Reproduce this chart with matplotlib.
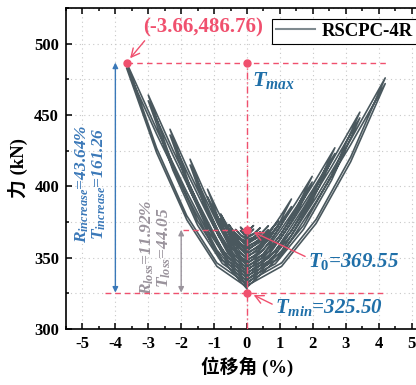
import matplotlib

matplotlib.use("Agg")
import matplotlib.pyplot as plt  # noqa: E402
import numpy as np  # noqa: E402

plt.rcParams.update(
    {
        "font.family": ["Liberation Serif", "Noto Sans CJK SC"],
        "font.weight": "bold",
        "mathtext.fontset": "custom",
        "mathtext.rm": "Liberation Serif:bold",
        "mathtext.it": "Liberation Serif:italic:bold",
        "mathtext.bf": "Liberation Serif:bold",
        "axes.linewidth": 1.2,
    }
)

# hysteresis history, one pair of lists per drift level (two cycles each)
drift_L1 = [0, 0.1, 0.2, 0.1, 0, -0.1, -0.2, -0.1, 0, 0.1, 0.2, 0.1, 0, -0.1, -0.2, -0.1, 0]
force_L1 = [369.5, 370.4, 372.5, 369.9, 368.4, 369.3, 371.4, 368.7, 367.2,
            368.1, 370.0, 367.5, 366.1, 367.0, 369.0, 366.4, 364.9]
drift_L2 = [0.2, 0.4, 0.2, 0, -0.175, -0.35, -0.175, 0, 0.2, 0.4, 0.2, 0, -0.175, -0.35, -0.175, 0]
force_L2 = [366.8, 370.9, 366.4, 363.8, 365.6, 369.8, 365.2, 362.6,
            364.3, 368.2, 363.9, 361.5, 363.2, 367.1, 362.7, 360.3]
drift_L3 = [0.325, 0.65, 0.325, 0, -0.275, -0.55, -0.275, 0, 0.325, 0.65, 0.325, 0, -0.275, -0.55, -0.275, 0]
force_L3 = [364.0, 372.3, 364.7, 359.2, 363.5, 373.2, 364.4, 358.0,
            361.5, 369.5, 362.2, 356.9, 361.1, 370.4, 361.9, 355.7]
drift_L4 = [0.475, 0.95, 0.475, 0, -0.4, -0.8, -0.4, 0, 0.475, 0.95, 0.475, 0, -0.4, -0.8, -0.4, 0]
force_L4 = [361.9, 375.7, 363.5, 354.6, 362.6, 380.6, 364.8, 353.4,
            359.3, 372.4, 360.7, 352.3, 360.0, 377.3, 362.1, 351.1]
drift_L5 = [0.34, 0.675, 1.01, 1.35, 1.01, 0.675, 0.34, 0, -0.3, -0.6, -0.9, -1.2, -0.9, -0.6, -0.3, 0,
            0.34, 0.675, 1.01, 1.35, 1.01, 0.675, 0.34, 0, -0.3, -0.6, -0.9, -1.2, -0.9, -0.6, -0.3, 0]
force_L5 = [354.9, 363.4, 375.6, 391.1, 378.8, 367.3, 356.6, 350.0, 354.6, 364.8, 379.4, 398.0, 383.2, 369.5, 356.7, 348.8,
            352.3, 360.2, 371.5, 385.8, 374.4, 363.7, 353.8, 347.7, 352.0, 361.6, 375.3, 392.7, 378.8, 365.9, 353.9, 346.5]
drift_L6 = [0.495, 0.99, 1.485, 1.98, 1.485, 0.99, 0.495, 0, -0.43, -0.865, -1.3, -1.73, -1.3, -0.865, -0.43, 0,
            0.495, 0.99, 1.485, 1.98, 1.485, 0.99, 0.495, 0, -0.43, -0.865, -1.3, -1.73, -1.3, -0.865, -0.43, 0]
force_L6 = [352.2, 365.1, 383.6, 407.0, 388.5, 371.3, 355.3, 345.4, 352.4, 368.1, 390.5, 419.0, 396.6, 375.6, 356.2, 344.2,
            349.8, 362.3, 380.2, 403.0, 385.0, 368.3, 352.7, 343.1, 349.9, 365.2, 387.2, 415.0, 393.1, 372.6, 353.6, 341.9]
drift_L7 = [0.67, 1.335, 2.0, 2.67, 2.0, 1.335, 0.67, 0, -0.585, -1.17, -1.755, -2.34, -1.755, -1.17, -0.585, 0,
            0.67, 1.335, 2.0, 2.67, 2.0, 1.335, 0.67, 0, -0.585, -1.17, -1.755, -2.34, -1.755, -1.17, -0.585, 0]
force_L7 = [350.0, 368.1, 394.1, 427.0, 401.1, 377.0, 354.6, 340.8, 350.2, 371.4, 401.6, 440.0, 409.9, 381.8, 355.7, 339.6,
            347.5, 365.3, 390.7, 423.0, 397.7, 374.0, 352.0, 338.5, 347.8, 368.5, 398.3, 436.0, 406.4, 378.8, 353.1, 337.3]
drift_L8 = [0.86, 1.715, 2.57, 3.43, 2.57, 1.715, 0.86, 0, -0.75, -1.5, -2.25, -3.0, -2.25, -1.5, -0.75, 0,
            0.86, 1.715, 2.57, 3.43, 2.57, 1.715, 0.86, 0, -0.75, -1.5, -2.25, -3.0, -2.25, -1.5, -0.75, 0]
force_L8 = [348.2, 372.6, 407.6, 452.0, 417.3, 384.8, 354.7, 336.2, 348.3, 375.6, 414.5, 464.0, 425.3, 389.2, 355.6, 335.0,
            345.7, 369.8, 404.3, 448.0, 413.8, 381.8, 352.2, 333.9, 345.9, 372.7, 411.2, 460.0, 421.8, 386.2, 353.1, 332.7]
drift_L9 = [1.05, 2.1, 3.15, 4.2, 3.15, 2.1, 1.05, 0, -0.915, -1.83, -2.745, -3.66, -2.745, -1.83, -0.915, 0,
            1.05, 2.1, 3.15, 4.2, 3.15, 2.1, 1.05, 0, -0.915, -1.83, -2.745, -3.66, -2.745, -1.83, -0.915, 0]
force_L9 = [346.3, 376.8, 420.5, 476.0, 432.7, 392.2, 354.7, 331.6, 346.3, 379.4, 426.7, 486.76, 439.9, 396.1, 355.4, 330.4,
            343.9, 374.0, 417.2, 472.0, 429.2, 389.2, 352.1, 329.3, 343.9, 376.6, 423.5, 483.0, 436.5, 393.2, 352.9, 328.1]

# key values marked on the chart
peak = (-3.66, 486.76)
T_0 = 369.55
T_min = 325.50
x_ticks = [-5, -4, -3, -2, -1, 0, 1, 2, 3, 4, 5]
y_ticks = [300, 350, 400, 450, 500]

PINK = "#f0506e"
BLUE = "#1f6fa8"
ABLUE = "#3a78b8"
GREY = "#9a939c"
LINE = "#4a585e"

drift = np.concatenate([drift_L1, drift_L2, drift_L3, drift_L4, drift_L5,
                        drift_L6, drift_L7, drift_L8, drift_L9])
force = np.concatenate([force_L1, force_L2, force_L3, force_L4, force_L5,
                        force_L6, force_L7, force_L8, force_L9])

fig = plt.figure(figsize=(4.16, 3.85), dpi=100)
ax = fig.add_axes([66 / 416, 56 / 385, 362 / 416, 321 / 385])
ax.set_xlim(-5.5, 5.5)
ax.set_ylim(300, 525)

ax.plot(drift, force, color=LINE, lw=1.2, label="RSCPC-4R", zorder=3)

# reference lines
dash = (0, (4, 3))
ax.plot([peak[0], 4.25], [peak[1], peak[1]], ls=dash, color=PINK, lw=1, zorder=4)
ax.plot([0, 0], [300, peak[1]], ls=(0, (5, 2, 1, 2)), color=PINK, lw=1, zorder=4)
ax.plot([-1.95, 0], [T_0, T_0], ls=dash, color=PINK, lw=1, zorder=4)
ax.plot([-4.3, 4.25], [T_min, T_min], ls=dash, color=PINK, lw=1, zorder=4)
ax.plot([peak[0], 0, 0, 0], [peak[1], peak[1], T_0, T_min], "o", color=PINK, ms=5, zorder=5)

# range arrows
ax.annotate("", xy=(-4, peak[1]), xytext=(-4, T_min),
            arrowprops=dict(arrowstyle="<|-|>", color=ABLUE, lw=1,
                            mutation_scale=8, shrinkA=0, shrinkB=0))
ax.annotate("", xy=(-2, T_0), xytext=(-2, T_min),
            arrowprops=dict(arrowstyle="<|-|>", color=GREY, lw=1,
                            mutation_scale=8, shrinkA=0, shrinkB=0))
ax.text(-4.74, 402, "$R_{increase}$=43.64%\n$T_{increase}$=161.26", rotation=90,
        ha="center", va="center", color=ABLUE, fontsize=12.5, style="italic",
        fontweight="bold", linespacing=1.0)
ax.text(-2.78, 357, "$R_{loss}$=11.92%\n$T_{loss}$=44.05", rotation=90,
        ha="center", va="center", color=GREY, fontsize=12.5, style="italic",
        fontweight="bold", linespacing=1.0)

# value labels
ax.annotate(f"({peak[0]},{peak[1]})", xy=peak, xytext=(-1.35, 511),
            ha="center", va="center", color=PINK, fontsize=15, fontweight="bold",
            arrowprops=dict(arrowstyle="->", color=PINK, lw=1,
                            relpos=(0.05, 0.1), shrinkA=0, shrinkB=4))
ax.text(0.15, 474, "$T_{max}$", color=BLUE, fontsize=16, ha="left", va="center")
ax.annotate(f"$T_{{0}}$={T_0:.2f}", xy=(0.05, T_0), xytext=(1.85, 347),
            ha="left", va="center", color=BLUE, fontsize=15, style="italic",
            fontweight="bold",
            arrowprops=dict(arrowstyle="->", color=PINK, lw=1,
                            relpos=(0, 0.7), shrinkA=0, shrinkB=4))
ax.annotate(f"$T_{{min}}$={T_min:.2f}", xy=(0.05, T_min), xytext=(0.85, 315),
            ha="left", va="center", color=BLUE, fontsize=15, style="italic",
            fontweight="bold",
            arrowprops=dict(arrowstyle="->", color=PINK, lw=1,
                            relpos=(0, 0.6), shrinkA=0, shrinkB=4))

ax.set_xticks(x_ticks)
ax.set_xticks(np.arange(-5.5, 5.51, 0.5), minor=True)
ax.set_yticks(y_ticks)
ax.set_yticks(np.arange(300, 526, 25), minor=True)
ax.set_xticklabels([str(v) for v in x_ticks], fontweight="bold", fontsize=12)
ax.set_yticklabels([str(v) for v in y_ticks], fontweight="bold", fontsize=12)
ax.tick_params(which="both", direction="in", top=True, right=False, width=1.1)
ax.tick_params(which="major", length=4, pad=5)
ax.tick_params(which="minor", length=2.5)
ax.grid(True, which="major", axis="x", ls=(0, (1, 3)), color="#c8c8c8", lw=0.8)
ax.grid(True, which="both", axis="y", ls=(0, (1, 3)), color="#c8c8c8", lw=0.8)
ax.set_axisbelow(True)

ax.set_xlabel("位移角 (%)", fontsize=13.5, fontweight="bold", labelpad=3)
ax.set_ylabel("力 (kN)", fontsize=13.5, fontweight="bold", labelpad=4)

leg = ax.legend(loc="upper left", bbox_to_anchor=(272 / 416, 1 - 19 / 385),
                bbox_transform=fig.transFigure, borderaxespad=0, fancybox=False,
                edgecolor="black", handlelength=2.1, handletextpad=0.35,
                borderpad=0.2, framealpha=1,
                prop={"family": "Liberation Serif", "weight": "bold", "size": 13.5})
leg.get_frame().set_linewidth(0.8)
for h in leg.get_lines():
    h.set_color("#7f8a8f")
    h.set_linewidth(1.5)

fig.savefig("out.png", dpi=100)
